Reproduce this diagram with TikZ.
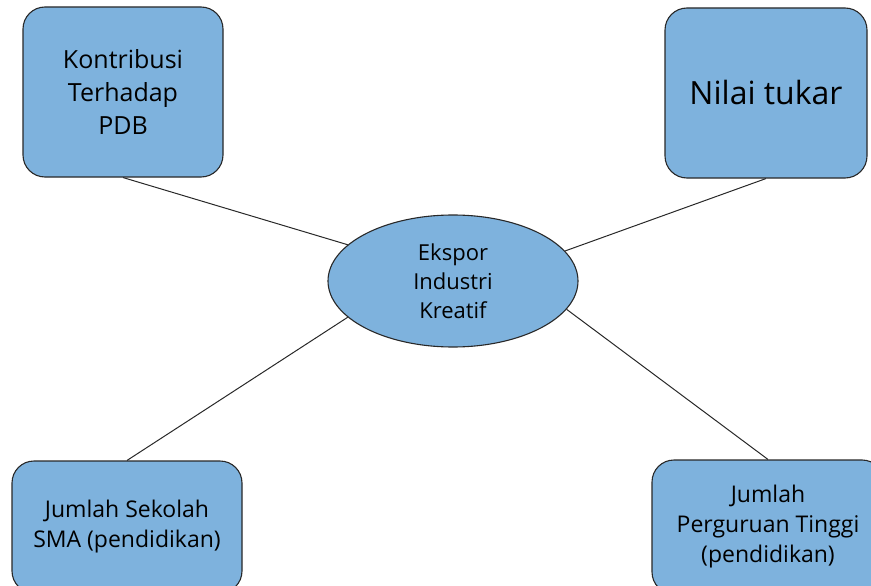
\documentclass[tikz,border=0pt]{standalone}
\usepackage{fontspec}
\setmainfont{Open Sans}
\usetikzlibrary{shapes.geometric}
\definecolor{boxblue}{RGB}{126,178,221}
\definecolor{edgegray}{RGB}{40,40,40}
\begin{document}
\begin{tikzpicture}[x=1pt,y=-1pt,
  factor/.style={draw=edgegray, line width=1.1pt, fill=boxblue, rounded corners=22pt,
    align=center, inner sep=0pt, text=black},
  hub/.style={draw=edgegray, line width=1.1pt, fill=boxblue, ellipse, inner sep=0pt,
    minimum width=250pt, minimum height=132pt, align=center, text=black},
  link/.style={draw=edgegray, line width=1pt}]
  \useasboundingbox (0,0) rectangle (871,586);
  % central topic
  \node[hub, font=\fontsize{22}{29}\selectfont] (ekspor) at (453,281)
    {Ekspor\\Industri\\Kreatif};
  % surrounding factors
  \node[factor, minimum width=200pt, minimum height=170pt,
    font=\fontsize{25}{33}\selectfont] (pdb) at (123,92)
    {Kontribusi\\Terhadap\\PDB};
  \node[factor, minimum width=202pt, minimum height=170pt,
    font=\fontsize{32}{38}\selectfont] (kurs) at (766,93)
    {Nilai tukar};
  \node[factor, minimum width=230pt, minimum height=132pt,
    font=\fontsize{23}{30}\selectfont] (sma) at (127,527)
    {Jumlah Sekolah\\SMA (pendidikan)};
  \node[factor, minimum width=232pt, minimum height=134pt,
    font=\fontsize{23}{30}\selectfont] (pt) at (768,527)
    {Jumlah\\Perguruan Tinggi\\(pendidikan)};
  % connectors
  \draw[link] (pdb.south) -- (ekspor.161);
  \draw[link] (kurs.south) -- (ekspor.15.5);
  \draw[link] (sma.north) -- (ekspor.199.5);
  \draw[link] (pt.north) -- (ekspor.346.5);
\end{tikzpicture}
\end{document}
